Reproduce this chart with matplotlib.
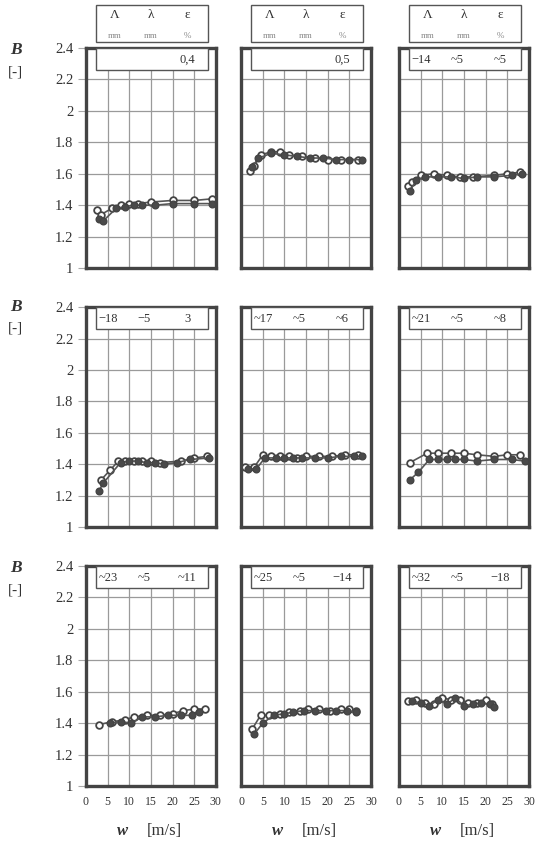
import numpy as np
import matplotlib.pyplot as plt
from matplotlib.patches import Rectangle

plt.rcParams['font.family'] = ['Liberation Serif', 'DejaVu Serif']

# datos (w en m/s, B adimensional)
# fila 1
w11a = [2.5, 3.5, 6, 8, 10, 12, 15, 20, 25, 29]
b11a = [1.37, 1.34, 1.38, 1.40, 1.41, 1.41, 1.42, 1.43, 1.43, 1.44]
w11b = [3, 4, 7, 9, 11, 13, 16, 20, 25, 29]
b11b = [1.31, 1.30, 1.38, 1.39, 1.40, 1.40, 1.40, 1.41, 1.41, 1.41]

w12a = [2, 3, 4.5, 7, 9, 11, 14, 17, 20, 23, 27]
b12a = [1.62, 1.65, 1.72, 1.74, 1.74, 1.72, 1.71, 1.70, 1.69, 1.69, 1.69]
w12b = [2.5, 4, 7, 10, 13, 16, 19, 22, 25, 28]
b12b = [1.64, 1.70, 1.73, 1.72, 1.71, 1.70, 1.70, 1.69, 1.69, 1.69]

w13a = [2, 3, 5, 8, 11, 14, 17, 22, 25, 28]
b13a = [1.52, 1.55, 1.59, 1.60, 1.59, 1.58, 1.58, 1.59, 1.60, 1.61]
w13b = [2.5, 4, 6, 9, 12, 15, 18, 22, 26, 28.5]
b13b = [1.49, 1.56, 1.58, 1.58, 1.58, 1.57, 1.58, 1.58, 1.59, 1.60]

# fila 2
w21a = [3.5, 5.5, 7.5, 9, 11, 13, 15, 17, 22, 25, 28]
b21a = [1.30, 1.36, 1.42, 1.42, 1.42, 1.42, 1.42, 1.41, 1.42, 1.44, 1.45]
w21b = [3, 4, 8, 10, 12, 14, 16, 18, 21, 24, 28.5]
b21b = [1.23, 1.28, 1.41, 1.42, 1.42, 1.41, 1.41, 1.40, 1.41, 1.43, 1.44]

w22a = [1, 3, 5, 7, 9, 11, 13, 15, 18, 21, 24, 27]
b22a = [1.38, 1.38, 1.46, 1.45, 1.45, 1.45, 1.44, 1.45, 1.45, 1.45, 1.46, 1.46]
w22b = [1.5, 3.5, 5.5, 8, 10, 12, 14, 17, 20, 23, 26, 28]
b22b = [1.37, 1.37, 1.44, 1.44, 1.44, 1.44, 1.44, 1.44, 1.44, 1.45, 1.45, 1.45]

w23a = [2.5, 6.5, 9, 12, 15, 18, 22, 25, 28]
b23a = [1.41, 1.47, 1.47, 1.47, 1.47, 1.46, 1.45, 1.46, 1.46]
w23b = [2.5, 4.5, 7, 9, 11, 13, 15, 18, 22, 26, 29]
b23b = [1.30, 1.35, 1.43, 1.43, 1.43, 1.43, 1.43, 1.42, 1.43, 1.43, 1.42]

# fila 3
w31a = [3, 6, 9, 11, 14, 17, 20, 22.5, 25, 27.5]
b31a = [1.39, 1.41, 1.42, 1.44, 1.45, 1.45, 1.46, 1.48, 1.49, 1.49]
w31b = [5.5, 8, 10.5, 13, 16, 19, 22, 24.5, 26]
b31b = [1.40, 1.41, 1.40, 1.44, 1.44, 1.45, 1.45, 1.45, 1.47]

w32a = [2.5, 4.5, 6.5, 9, 11, 13.5, 15.5, 18, 20.5, 23, 25, 26.5]
b32a = [1.36, 1.45, 1.45, 1.46, 1.47, 1.48, 1.49, 1.49, 1.48, 1.49, 1.49, 1.48]
w32b = [3, 5, 7.5, 10, 12, 14.5, 17, 19.5, 22, 24.5, 26.5]
b32b = [1.33, 1.40, 1.45, 1.46, 1.47, 1.48, 1.48, 1.48, 1.48, 1.48, 1.47]

w33a = [2, 4, 6, 8, 10, 12, 14, 16, 18, 20, 21.5]
b33a = [1.54, 1.55, 1.53, 1.52, 1.56, 1.55, 1.55, 1.53, 1.53, 1.55, 1.52]
w33b = [3, 5, 7, 9, 11, 13, 15, 17, 19, 21, 22]
b33b = [1.54, 1.53, 1.51, 1.55, 1.52, 1.56, 1.51, 1.52, 1.53, 1.52, 1.50]

# valores de la caja (Lambda, lambda, epsilon)
cajas = [
    [("", "", "0,4"), ("", "", "0,5"), ("−14", "~5", "~5")],
    [("−18", "−5", "3"), ("~17", "~5", "~6"), ("~21", "~5", "~8")],
    [("~23", "~5", "~11"), ("~25", "~5", "−14"), ("~32", "~5", "−18")],
]

series = [
    [(w11a, b11a, w11b, b11b), (w12a, b12a, w12b, b12b), (w13a, b13a, w13b, b13b)],
    [(w21a, b21a, w21b, b21b), (w22a, b22a, w22b, b22b), (w23a, b23a, w23b, b23b)],
    [(w31a, b31a, w31b, b31b), (w32a, b32a, w32b, b32b), (w33a, b33a, w33b, b33b)],
]

yticks = [1, 1.2, 1.4, 1.6, 1.8, 2, 2.2, 2.4]
ytick_labels = ["1", "1.2", "1.4", "1.6", "1.8", "2", "2.2", "2.4"]
xticks = [0, 5, 10, 15, 20, 25, 30]

col_txt = '#333333'
col_line = '#555555'

fig = plt.figure(figsize=(5.37, 8.46), dpi=100)

lefts = [0.160, 0.449, 0.743]
bottoms = [0.6832, 0.377, 0.0709]
ancho = 0.242
alto = 0.260

for i in range(3):
    for j in range(3):
        ax = fig.add_axes([lefts[j], bottoms[i], ancho, alto])
        wa, ba, wb, bb = series[i][j]
        ax.plot(wa, ba, '-o', color=col_line, lw=1.2, ms=4.8,
                mfc='white', mec='#444444', mew=1.3, zorder=3)
        ax.plot(wb, bb, '-o', color=col_line, lw=1.2, ms=4.8,
                mfc='#4a4a4a', mec='#444444', mew=1.0, zorder=3)
        ax.set_xlim(0, 30)
        ax.set_ylim(1, 2.4)
        ax.set_xticks(xticks)
        ax.set_yticks(yticks)
        ax.grid(True, color='#9a9a9a', lw=0.9)
        ax.set_axisbelow(True)
        for s in ax.spines.values():
            s.set_color('#444444')
            s.set_linewidth(2.4)
        ax.tick_params(axis='x', length=0, pad=7, labelsize=8.5, colors=col_txt)
        if j == 0:
            ax.tick_params(axis='y', length=6, width=0.8, color='#aaaaaa', pad=3,
                           labelsize=10.5, labelcolor=col_txt)
            ax.set_yticklabels(ytick_labels)
        else:
            ax.tick_params(axis='y', length=0)
            ax.set_yticklabels([])
        if i == 2:
            ax.set_xticklabels([str(t) for t in xticks])
        else:
            ax.set_xticklabels([])

        # caja de valores dentro del panel
        ax.add_patch(Rectangle((0.077, 0.9), 0.86, 0.1, transform=ax.transAxes,
                               fill=True, fc='white', ec='#555555', lw=1.0,
                               zorder=5, clip_on=False))
        L, l, e = cajas[i][j]
        for xx, tt in zip([0.17, 0.45, 0.78], [L, l, e]):
            ax.text(xx, 0.947, tt, transform=ax.transAxes, ha='center',
                    va='center', fontsize=9, color=col_txt, zorder=6)

        # cabecera sobre la primera fila
        if i == 0:
            ax.add_patch(Rectangle((0.077, 1.027), 0.86, 0.168,
                                   transform=ax.transAxes, fill=False,
                                   ec='#555555', lw=1.0, clip_on=False))
            for xx, s1, s2 in zip([0.22, 0.50, 0.78], ["Λ", "λ", "ε"],
                                  ["mm", "mm", "%"]):
                ax.text(xx, 1.15, s1, transform=ax.transAxes, ha='center',
                        va='center', fontsize=9.5, color=col_txt)
                ax.text(xx, 1.055, s2, transform=ax.transAxes, ha='center',
                        va='center', fontsize=6.5, color='#888888')

        if i == 2:
            ax.text(0.28, -0.205, "w", transform=ax.transAxes, ha='center',
                    va='center', fontsize=12, style='italic', weight='bold',
                    color=col_txt)
            ax.text(0.60, -0.205, "[m/s]", transform=ax.transAxes, ha='center',
                    va='center', fontsize=12, color=col_txt)

# etiquetas del eje y
for yb, yu in [(0.941, 0.915), (0.637, 0.612), (0.329, 0.303)]:
    fig.text(0.030, yb, "B", ha='center', va='center', fontsize=12.5,
             style='italic', weight='bold', color=col_txt)
    fig.text(0.028, yu, "[-]", ha='center', va='center', fontsize=11,
             color=col_txt)

fig.savefig("out.png", dpi=100)
